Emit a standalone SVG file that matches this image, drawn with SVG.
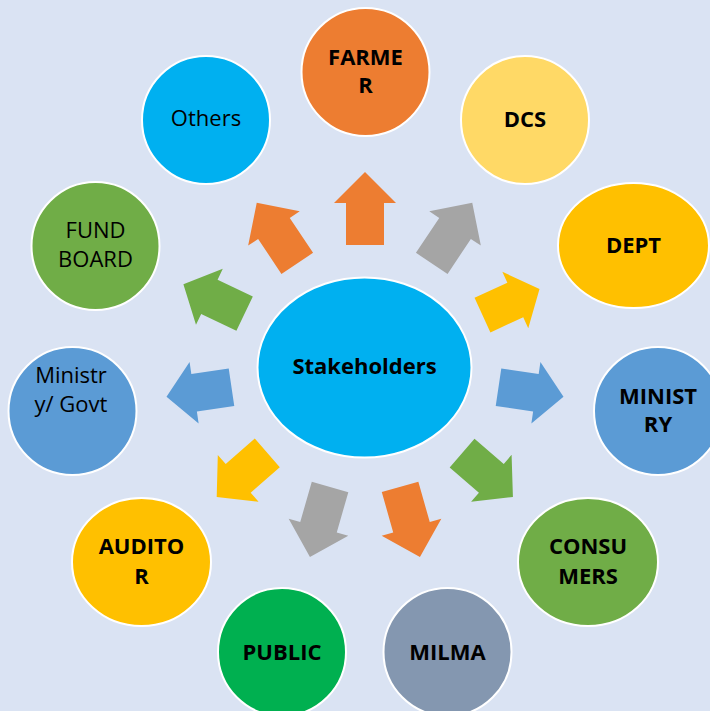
<svg xmlns="http://www.w3.org/2000/svg" width="710" height="711" viewBox="0 0 710 711">
<defs>
<path id="arr" d="M-36.5,-19 L5.5,-19 L5.5,-31 L36.5,0 L5.5,31 L5.5,19 L-36.5,19 Z"/>
</defs>
<style>
.n{stroke:#ffffff;stroke-width:2}
.t{font-family:"Open Sans","Liberation Sans",sans-serif;font-size:22px;fill:#000;text-anchor:middle}
.b{font-weight:bold}
</style>
<rect x="0" y="0" width="710" height="711" fill="#DAE3F3"/>
<g id="connectors">
<use href="#arr" fill="#ED7D31" transform="translate(365,208.5) rotate(-90)"/>
<use href="#arr" fill="#ED7D31" transform="translate(277,233) rotate(-123.7)"/>
<use href="#arr" fill="#A5A5A5" transform="translate(452,233) rotate(-56.3)"/>
<use href="#arr" fill="#70AD47" transform="translate(214,299) rotate(-154.4) scale(0.93,1)"/>
<use href="#arr" fill="#FFC000" transform="translate(511,302) rotate(-24.7) scale(0.86,1)"/>
<use href="#arr" fill="#5B9BD5" transform="translate(199,392) rotate(171.6) scale(0.9,1)"/>
<use href="#arr" fill="#5B9BD5" transform="translate(531,392) rotate(8.4) scale(0.9,1)"/>
<use href="#arr" fill="#FFC000" transform="translate(242,475) rotate(138.9) scale(0.92,1)"/>
<use href="#arr" fill="#70AD47" transform="translate(487.5,475) rotate(40.8) scale(0.92,1)"/>
<use href="#arr" fill="#A5A5A5" transform="translate(320,522) rotate(106)"/>
<use href="#arr" fill="#ED7D31" transform="translate(410,522) rotate(74.2)"/>
</g>
<g id="stakeholders">
<ellipse class="n" cx="364.5" cy="367.5" rx="107" ry="90" fill="#00B0F0"/>
<text class="t b" x="364.5" y="374">Stakeholders</text>
</g>
<g id="others">
<circle class="n" cx="206" cy="120" r="64" fill="#00B0F0"/>
<text class="t" x="206" y="126">Others</text>
</g>
<g id="farmer">
<circle class="n" cx="365.5" cy="72" r="64" fill="#ED7D31"/>
<text class="t b" x="365.5" y="65">FARME</text>
<text class="t b" x="365.5" y="93">R</text>
</g>
<g id="dcs">
<circle class="n" cx="525" cy="120" r="64" fill="#FFD966"/>
<text class="t b" x="525" y="127">DCS</text>
</g>
<g id="dept">
<ellipse class="n" cx="633.5" cy="245.5" rx="75.5" ry="62.5" fill="#FFC000"/>
<text class="t b" x="633.5" y="253">DEPT</text>
</g>
<g id="fundboard">
<circle class="n" cx="95.5" cy="246" r="64" fill="#70AD47"/>
<text class="t" x="95.5" y="238">FUND</text>
<text class="t" x="95.5" y="267">BOARD</text>
</g>
<g id="ministrygovt">
<circle class="n" cx="72.5" cy="411" r="64" fill="#5B9BD5"/>
<text class="t" x="71" y="383">Ministr</text>
<text class="t" x="71" y="412">y/ Govt</text>
</g>
<g id="ministry">
<circle class="n" cx="658" cy="411" r="64" fill="#5B9BD5"/>
<text class="t b" x="658" y="404">MINIST</text>
<text class="t b" x="658" y="432">RY</text>
</g>
<g id="auditor">
<ellipse class="n" cx="141.5" cy="562" rx="69.5" ry="64" fill="#FFC000"/>
<text class="t b" x="141.5" y="554">AUDITO</text>
<text class="t b" x="141.5" y="584">R</text>
</g>
<g id="consumers">
<ellipse class="n" cx="588" cy="562" rx="70" ry="64" fill="#70AD47"/>
<text class="t b" x="588" y="554">CONSU</text>
<text class="t b" x="588" y="584">MERS</text>
</g>
<g id="public">
<circle class="n" cx="282" cy="652" r="64" fill="#00B050"/>
<text class="t b" x="282" y="660">PUBLIC</text>
</g>
<g id="milma">
<circle class="n" cx="447.5" cy="652" r="64" fill="#8497B0"/>
<text class="t b" x="447.5" y="660">MILMA</text>
</g>
</svg>
